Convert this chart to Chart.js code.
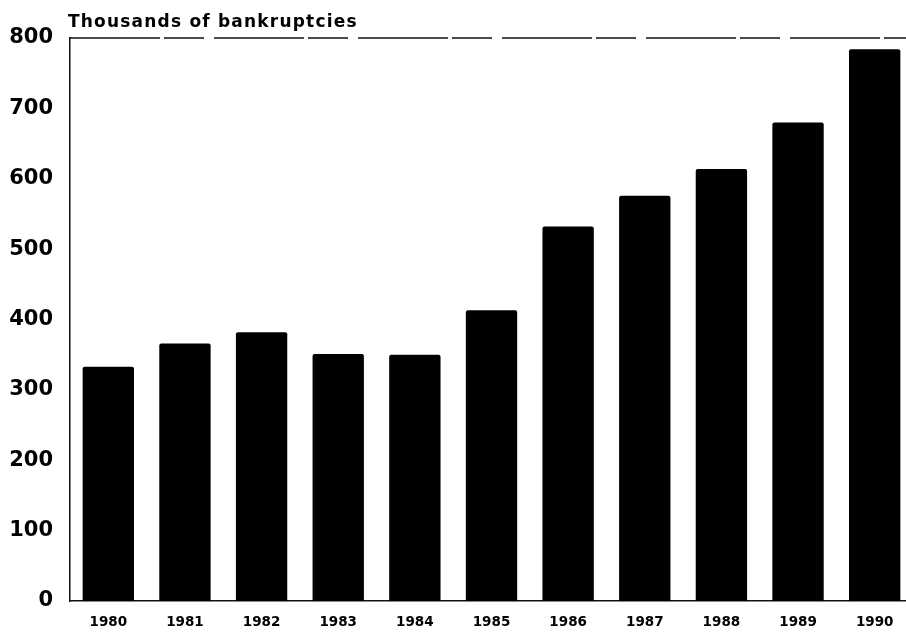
<!DOCTYPE html>
<html>
<head>
<meta charset="utf-8">
<script src="https://cdn.jsdelivr.net/npm/chart.js@4/dist/chart.umd.min.js"></script>
<style>
  html, body { margin: 0; padding: 0; background: #fff; overflow: hidden; }
  #wrap { width: 913px; height: 632px; }
</style>
</head>
<body>
<div id="wrap"><canvas id="c"></canvas></div>
<script>
const categories = ["1980","1981","1982","1983","1984","1985","1986","1987","1988","1989","1990"];
const bankruptcies = [333, 366, 382, 351, 350, 413, 532, 576, 614, 680, 784];
const yTicks = [0, 100, 200, 300, 400, 500, 600, 700, 800];
const titleText = "Thousands of bankruptcies";

const titlePlugin = {
  id: 'titlePlugin',
  afterDraw(chart) {
    const ctx = chart.ctx;
    const a = chart.chartArea;
    ctx.save();
    ctx.fillStyle = '#000';
    ctx.font = 'bold 17px "DejaVu Sans"';
    ctx.letterSpacing = '1.2px';
    ctx.textAlign = 'left';
    ctx.textBaseline = 'alphabetic';
    ctx.fillText(titleText, a.left - 2, 27);
    ctx.restore();
    // top frame line (broken, as in the scan)
    ctx.save();
    ctx.strokeStyle = '#111';
    ctx.lineWidth = 1.5;
    ctx.setLineDash([90, 4, 40, 10]);
    ctx.beginPath();
    ctx.moveTo(a.left, a.top);
    ctx.lineTo(906, a.top);
    ctx.stroke();
    ctx.restore();
  }
};

new Chart(document.getElementById('c'), {
  type: 'bar',
  data: {
    labels: categories,
    datasets: [{
      data: bankruptcies,
      backgroundColor: '#000',
      borderWidth: 0,
      borderRadius: 2,
      barPercentage: 0.67,
      categoryPercentage: 1.0
    }]
  },
  options: {
    responsive: true,
    maintainAspectRatio: false,
    animation: false,
    layout: { padding: { left: 8, top: 38, right: 0, bottom: 0 } },
    plugins: { legend: { display: false }, tooltip: { enabled: false }, title: { display: false } },
    scales: {
      x: {
        grid: { display: false, drawTicks: false },
        border: { display: true, color: '#111', width: 1.5 },
        ticks: {
          color: '#000',
          font: { family: '"DejaVu Sans"', weight: 'bold', size: 13.5 },
          padding: 13,
          maxRotation: 0
        },
        afterFit(s) { s.height = 31; s.paddingLeft = 0; s.paddingRight = 0; }
      },
      y: {
        min: 0,
        max: 800,
        afterBuildTicks(scale) { scale.ticks = yTicks.map(v => ({ value: v })); },
        grid: { display: false, drawTicks: false },
        border: { display: true, color: '#111', width: 1.5 },
        ticks: {
          color: '#000',
          font: { family: '"DejaVu Sans"', weight: 'bold', size: 21 },
          padding: 17
        },
        afterFit(s) { s.width = 62; s.paddingTop = 0; s.paddingBottom = 0; }
      }
    }
  },
  plugins: [titlePlugin]
});
</script>
</body>
</html>
